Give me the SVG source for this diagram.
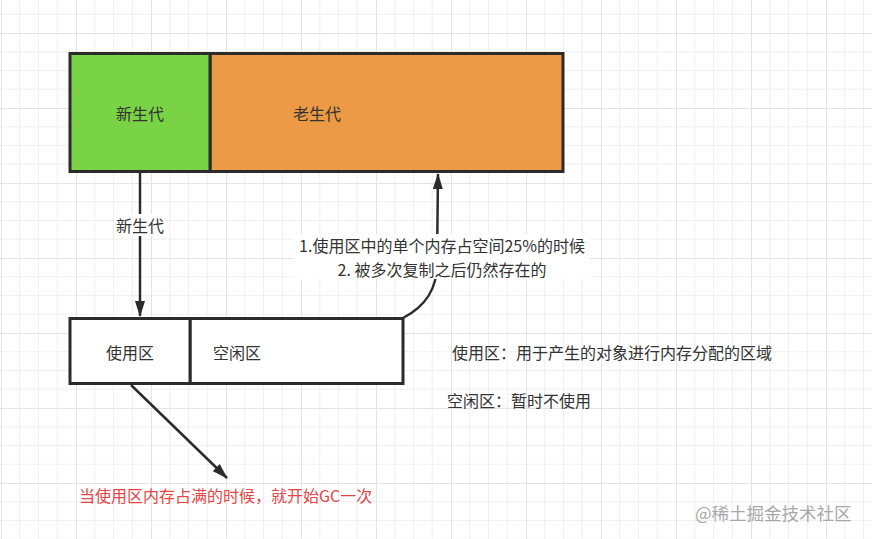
<svg xmlns="http://www.w3.org/2000/svg" width="872" height="539" viewBox="0 0 872 539">
  <defs>
    <pattern id="grid" patternUnits="userSpaceOnUse" x="1" y="33" width="75" height="75">
      <rect width="75" height="75" fill="#ffffff"/>
      <path d="M18.75,0 V75 M37.5,0 V75 M56.25,0 V75 M0,18.75 H75 M0,37.5 H75 M0,56.25 H75" stroke="#f0f0f0" stroke-width="1" fill="none"/>
      <path d="M0.5,0 V75 M0,0.5 H75" stroke="#e3e3e3" stroke-width="1" fill="none"/>
    </pattern>
    <marker id="arrow" viewBox="0 0 16 10" refX="15" refY="5" markerWidth="16" markerHeight="10" markerUnits="userSpaceOnUse" orient="auto">
      <path d="M0,0 L16,5 L0,10 z" fill="#2b2b2b"/>
    </marker>
    <style>
      .box { stroke: #2b2b2b; stroke-width: 3; }
      .txt { font-family: "Noto Sans CJK SC", "Microsoft YaHei", sans-serif; font-size: 16px; fill: #333333; dominant-baseline: central; }
      .conn { stroke: #2b2b2b; stroke-width: 2.5; fill: none; }
      .lblbg { fill: #ffffff; }
    </style>
  </defs>
  <rect width="872" height="539" fill="url(#grid)"/>

  <g id="old-gen">
    <rect class="box" x="210" y="53.5" width="353" height="118" fill="#ec9a46"/>
    <text class="txt" x="317" y="113" text-anchor="middle">老生代</text>
  </g>
  <g id="young-gen">
    <rect class="box" x="70" y="53.5" width="140" height="118" fill="#7ad345"/>
    <text class="txt" x="140" y="113" text-anchor="middle">新生代</text>
  </g>

  <g id="idle-area">
    <rect class="box" x="190" y="318.5" width="213" height="65" fill="#ffffff"/>
    <text class="txt" x="213" y="352">空闲区</text>
  </g>
  <g id="used-area">
    <rect class="box" x="70" y="318.5" width="120" height="65" fill="#ffffff"/>
    <text class="txt" x="130" y="352" text-anchor="middle">使用区</text>
  </g>

  <g id="connectors">
    <path class="conn" d="M140,172 L140,316" marker-end="url(#arrow)"/>
    <rect class="lblbg" x="114" y="214" width="52" height="22"/>
    <text class="txt" x="140" y="225" text-anchor="middle">新生代</text>

    <path class="conn" d="M403,318 C426,306 437,289 437,264 L438,174" marker-end="url(#arrow)"/>
    <rect class="lblbg" x="294" y="234" width="296" height="45"/>
    <text class="txt" x="442" y="245" text-anchor="middle">1.使用区中的单个内存占空间25%的时候</text>
    <text class="txt" x="442" y="269" text-anchor="middle">2. 被多次复制之后仍然存在的</text>

    <path class="conn" d="M131,385 L227,478" marker-end="url(#arrow)"/>
  </g>

  <g id="notes">
    <text class="txt" x="452" y="352">使用区：用于产生的对象进行内存分配的区域</text>
    <text class="txt" x="447" y="400">空闲区：暂时不使用</text>
    <text class="txt" x="79" y="495" style="fill:#e64545">当使用区内存占满的时候，就开始GC一次</text>
  </g>

  <text x="695" y="512" font-family="Noto Sans CJK SC, sans-serif" font-size="17.5" fill="#a8a8a8" dominant-baseline="central">@稀土掘金技术社区</text>
</svg>
